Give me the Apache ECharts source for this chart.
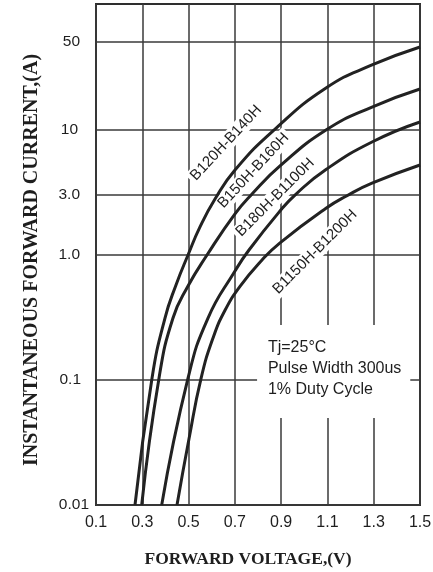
<!DOCTYPE html>
<html><head><meta charset="utf-8">
<script src="https://cdn.jsdelivr.net/npm/echarts@6/dist/echarts.min.js"></script>
<style>html,body{margin:0;padding:0;background:#fff}#c{width:433px;height:572px}</style>
</head><body><div id="c"></div>
<script>
// ---- data ----
const xTicks = [0.1, 0.3, 0.5, 0.7, 0.9, 1.1, 1.3, 1.5];
const xTickLabels = ['0.1', '0.3', '0.5', '0.7', '0.9', '1.1', '1.3', '1.5'];
const yTicks = [50, 10, 3.0, 1.0, 0.1, 0.01];
const yTickLabels = ['50', '10', '3.0', '1.0', '0.1', '0.01'];

const curveNames = ['B120H-B140H', 'B150H-B160H', 'B180H-B1100H', 'B1150H-B1200H'];
const v1 = [0.2685, 0.342, 0.3981, 0.4457, 0.4976, 0.5494, 0.6142, 0.7006, 0.8691, 1.0938, 1.2926, 1.5];
const i1 = [0.01, 0.103, 0.311, 0.571, 0.99, 1.66, 2.77, 4.73, 9.86, 21.35, 32.6, 45.4];
const v2 = [0.2975, 0.3722, 0.4327, 0.4976, 0.5797, 0.7006, 0.7741, 0.8951, 1.0938, 1.2926, 1.5];
const i2 = [0.01, 0.103, 0.311, 0.560, 0.99, 2.11, 3.04, 5.09, 9.86, 15.05, 20.96];
const v3 = [0.3839, 0.4976, 0.584, 0.7006, 0.7611, 0.8951, 0.9643, 1.0938, 1.2926, 1.5];
const i3 = [0.01, 0.103, 0.311, 0.738, 1.086, 2.225, 3.04, 4.77, 7.91, 11.43];
const v4 = [0.45, 0.5019, 0.5537, 0.6056, 0.6575, 0.7223, 0.8174, 0.8951, 1.0938, 1.1846, 1.2926, 1.5];
const i4 = [0.01, 0.0338, 0.102, 0.2154, 0.3584, 0.557, 0.904, 1.24, 2.338, 2.948, 3.71, 5.18];

const labelV = [0.662, 0.780, 0.874, 1.046];
const labelI = [7.77, 4.67, 2.86, 1.05];
const labelAngle = [47, 47, 45, 45];

const noteLines = ['Tj=25\u00B0C', 'Pulse Width 300us', '1% Duty Cycle'];
const noteBoxV = [0.796, 1.458];
const noteBoxI = [0.273, 0.0494];
const noteTextV = 0.843;
const noteTextI = [0.181, 0.122, 0.083];

const xTitle = 'FORWARD VOLTAGE,(V)';
const yTitle = 'INSTANTANEOUS FORWARD CURRENT,(A)';

// ---- chart ----
const zip = (a, b) => a.map((x, k) => [x, b[k]]);
const curves = [zip(v1, i1), zip(v2, i2), zip(v3, i3), zip(v4, i4)];
const chart = echarts.init(document.getElementById('c'), null, {renderer: 'canvas'});
const textColor = '#1e1e1e';
const gridColor = '#3a3a3a';

const yDist = [16, 18, 16, 16, 15, 7];

const gridLineData = [];
xTicks.forEach((v, k) => gridLineData.push({
  xAxis: v,
  label: {show: true, position: 'start', formatter: xTickLabels[k], distance: 10,
          color: textColor, fontSize: 16, fontFamily: 'Liberation Sans, Arial'}
}));
yTicks.forEach((v, k) => gridLineData.push({
  yAxis: v,
  label: {show: true, position: 'start', formatter: yTickLabels[k], distance: yDist[k],
          color: textColor, fontSize: 15.5, fontFamily: 'Liberation Sans, Arial'}
}));

chart.setOption({
  animation: false,
  backgroundColor: '#fff',
  grid: {left: 96, right: 13, top: 4, bottom: 67, show: true, borderColor: '#2e2e2e', borderWidth: 2, backgroundColor: 'transparent'},
  xAxis: {
    type: 'value', min: 0.1, max: 1.5,
    axisLine: {show: false}, axisTick: {show: false}, axisLabel: {show: false}, splitLine: {show: false}
  },
  yAxis: {
    type: 'log', min: 0.01, max: 100, logBase: 10,
    axisLine: {show: false}, axisTick: {show: false}, axisLabel: {show: false}, splitLine: {show: false}
  },
  series: [
    {
      type: 'line', data: [], z: 1, silent: true,
      markLine: {
        z: 1, silent: true, symbol: ['none', 'none'], animation: false,
        lineStyle: {color: gridColor, width: 1.5, type: 'solid'},
        emphasis: {disabled: true},
        data: gridLineData
      }
    }
  ].concat(curves.map((d, k) => ({
    name: curveNames[k], type: 'line', data: d, z: 3, showSymbol: false, symbol: 'none',
    smooth: 0.5, lineStyle: {color: '#222', width: 3}
  })))
});

function px(v, i) { return chart.convertToPixel({gridIndex: 0}, [v, i]); }

const graphics = [];
curveNames.forEach((name, k) => {
  const p = px(labelV[k], labelI[k]);
  graphics.push({
    type: 'text', x: p[0], y: p[1], z: 2, rotation: labelAngle[k] * Math.PI / 180,
    style: {text: name, fill: textColor, font: '15px "Liberation Sans", Arial', align: 'center', verticalAlign: 'middle',
            backgroundColor: '#fff', padding: [1, 3]}
  });
});
const b0 = px(noteBoxV[0], noteBoxI[0]);
const b1 = px(noteBoxV[1], noteBoxI[1]);
graphics.push({type: 'rect', z: 4, shape: {x: b0[0], y: b0[1], width: b1[0] - b0[0], height: b1[1] - b0[1]}, style: {fill: '#fff'}});
noteLines.forEach((t, k) => {
  const p = px(noteTextV, noteTextI[k]);
  graphics.push({type: 'text', z: 5, x: p[0], y: p[1],
    style: {text: t, fill: textColor, font: '16px "Liberation Sans", Arial', align: 'left', verticalAlign: 'middle'}});
});
graphics.push({type: 'text', z: 5, x: 248, y: 559,
  style: {text: xTitle, fill: textColor, font: 'bold 17.5px "Liberation Serif", "Times New Roman"', align: 'center', verticalAlign: 'middle'}});
graphics.push({type: 'text', z: 5, x: 32, y: 260, rotation: Math.PI / 2,
  style: {text: yTitle, fill: textColor, font: 'bold 20px "Liberation Serif", "Times New Roman"', align: 'center', verticalAlign: 'middle'}});
chart.setOption({graphic: graphics});
</script></body></html>
